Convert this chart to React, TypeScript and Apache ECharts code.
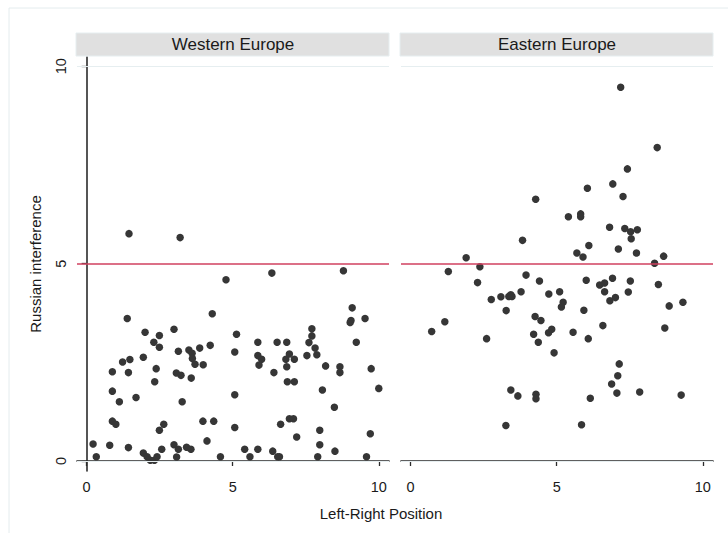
import React, { useEffect, useRef } from "react";
import * as echarts from "echarts";

const panels = ["Western Europe", "Eastern Europe"];
const xTicks = [0, 5, 10];
const yTicks = [0, 5, 10];
const threshold = 5;

const western: number[][] = [
  [1.45, 5.76], [3.2, 5.66], [4.77, 4.59], [6.34, 4.76], [8.79, 4.82],
  [1.39, 3.61], [4.3, 3.73], [9.09, 3.88], [9.02, 3.51], [9.05, 3.56], [9.53, 3.61],
  [2.0, 3.26], [2.49, 3.18], [2.99, 3.34], [5.13, 3.21], [7.71, 3.35], [7.71, 3.17], [7.61, 3.0],
  [2.3, 3.01], [2.49, 2.88], [3.14, 2.78], [3.5, 2.81], [3.61, 2.73], [3.87, 2.86], [4.23, 2.93],
  [5.86, 3.01], [6.52, 3.01], [6.85, 3.01], [9.23, 3.01], [7.82, 2.86], [7.88, 2.69],
  [3.62, 2.6], [3.71, 2.45], [3.99, 2.44], [5.07, 2.76],
  [5.86, 2.67], [5.99, 2.58], [5.9, 2.43], [6.94, 2.71], [6.82, 2.58], [7.11, 2.58], [6.85, 2.39], [7.54, 2.67],
  [1.23, 2.51], [1.48, 2.57], [1.94, 2.63], [0.88, 2.26], [1.43, 2.24], [2.38, 2.34], [3.07, 2.23], [3.23, 2.17], [3.58, 2.1], [2.33, 2.01],
  [6.41, 2.24], [8.18, 2.41], [8.67, 2.39], [8.67, 2.24], [9.74, 2.34],
  [0.88, 1.77], [1.69, 1.61], [3.27, 1.5], [5.07, 1.68], [1.12, 1.5],
  [6.87, 2.01], [7.11, 2.01], [8.07, 1.8], [10.0, 1.84],
  [8.48, 1.36],
  [0.88, 1.01], [1.0, 0.93], [2.64, 0.93], [2.49, 0.78], [3.98, 1.01], [4.35, 1.01], [5.07, 0.85],
  [6.64, 0.93], [6.94, 1.07], [7.08, 1.07], [7.98, 0.78], [7.19, 0.61], [9.71, 0.69],
  [0.22, 0.43], [0.33, 0.11], [0.79, 0.4], [1.43, 0.34], [1.94, 0.2], [2.07, 0.11], [2.18, 0.02], [2.32, 0.02], [2.41, 0.11],
  [2.57, 0.3], [2.99, 0.41], [3.14, 0.3], [3.08, 0.1], [3.42, 0.35], [3.57, 0.3], [4.12, 0.51], [4.58, 0.11],
  [5.41, 0.3], [5.86, 0.3], [5.59, 0.11], [6.37, 0.25], [6.54, 0.11], [6.6, 0.11], [7.98, 0.41], [7.91, 0.11], [8.5, 0.25], [9.58, 0.11],
];

const eastern: number[][] = [
  [7.19, 9.47], [8.44, 7.94], [7.42, 7.4], [6.05, 6.91], [6.92, 7.02], [7.27, 6.7], [4.28, 6.63],
  [5.4, 6.19], [5.82, 6.26], [5.82, 6.19], [6.81, 5.92], [7.33, 5.89], [7.53, 5.81], [7.76, 5.86], [7.55, 5.63],
  [3.83, 5.59], [6.1, 5.46], [7.11, 5.37], [5.69, 5.27], [5.9, 5.17], [7.73, 5.27], [1.9, 5.15], [8.66, 5.19], [8.35, 5.01],
  [1.29, 4.8], [2.37, 4.92], [2.29, 4.52], [3.95, 4.71], [4.41, 4.56], [6.01, 4.58], [6.47, 4.46], [6.64, 4.51],
  [6.91, 4.63], [7.52, 4.56], [8.48, 4.47],
  [2.76, 4.09], [3.09, 4.16], [3.36, 4.17], [3.43, 4.21], [3.47, 4.17], [3.78, 4.29], [4.73, 4.23], [5.1, 4.29],
  [5.22, 4.02], [5.16, 3.9], [6.64, 4.29], [6.82, 4.06], [7.01, 4.14], [7.45, 4.28],
  [3.27, 3.81], [5.93, 3.82], [8.85, 3.93], [9.32, 4.02], [1.17, 3.53], [0.72, 3.28],
  [4.26, 3.66], [4.46, 3.56], [6.58, 3.43], [8.7, 3.37], [2.6, 3.1], [4.21, 3.21], [4.37, 3.01],
  [4.72, 3.25], [4.83, 3.34], [5.56, 3.26], [6.08, 3.1], [4.91, 2.74],
  [7.14, 2.46], [7.09, 2.16], [6.88, 1.95], [7.06, 1.72], [7.84, 1.75], [9.26, 1.67],
  [3.43, 1.8], [3.67, 1.65], [4.29, 1.69], [4.29, 1.58], [6.15, 1.59], [3.26, 0.9], [5.85, 0.92],
];

const FONT = "'Liberation Sans', Arial, sans-serif";

export default function App() {
  const ref = useRef<HTMLDivElement>(null);
  useEffect(() => {
    if (!ref.current) return;
    const chart = echarts.init(ref.current, undefined, { renderer: "svg" });
    const X_MIN = -0.33, X_MAX = 10.35, Y_MIN = -0.253, Y_MAX = 10.235;
    const grids = [
      { left: 77, top: 57, width: 312, height: 414 },
      { left: 401, top: 57, width: 312, height: 414 },
    ];
    const axisColor = "#2b2b2b";
    const mkX = (i: number) => ({
      type: "value",
      gridIndex: i,
      min: X_MIN,
      max: X_MAX,
      axisLine: { show: true, lineStyle: { color: axisColor, width: 1.6 } },
      axisTick: { show: true, customValues: xTicks, length: 5, lineStyle: { color: axisColor, width: 1.3 } },
      axisLabel: { show: true, customValues: xTicks, color: "#1a1a1a", fontSize: 14.5, fontFamily: FONT, margin: 8 },
      splitLine: { show: false },
    });
    const mkY = (i: number) => ({
      type: "value",
      gridIndex: i,
      min: Y_MIN,
      max: Y_MAX,
      show: i === 0,
      axisLine: { show: true, lineStyle: { color: axisColor, width: 1.6 } },
      axisTick: { show: true, customValues: yTicks, length: 5, lineStyle: { color: axisColor, width: 1.3 } },
      axisLabel: { show: true, customValues: yTicks, rotate: 90, color: "#1a1a1a", fontSize: 14.5, fontFamily: FONT, margin: 9 },
      splitLine: { show: false },
    });
    const faint = { color: "#e6eef0", width: 1, type: "solid" };
    const mkSeries = (i: number, data: number[][]) => ({
      type: "scatter",
      xAxisIndex: i,
      yAxisIndex: i,
      data,
      symbol: "circle",
      symbolSize: 7.5,
      itemStyle: { color: "#363636", opacity: 1 },
      silent: true,
      markLine: {
        silent: true,
        symbol: "none",
        label: { show: false },
        data: [
          { yAxis: 0, lineStyle: faint },
          { yAxis: 10, lineStyle: faint },
          { yAxis: threshold, lineStyle: { color: "#d0405f", width: 1.5, type: "solid" } },
        ],
      },
    });
    const headers: any[] = [];
    grids.forEach((g, i) => {
      headers.push({
        type: "rect",
        shape: { x: g.left - 1, y: 33, width: g.width + 1, height: 23 },
        style: { fill: "#e0e0e0", stroke: "#e6eef0", lineWidth: 1 },
        z: 10,
      });
      headers.push({
        type: "text",
        x: g.left + g.width / 2,
        y: 44.5,
        style: {
          text: panels[i],
          fill: "#1a1a1a",
          font: `17px ${FONT}`,
          align: "center",
          verticalAlign: "middle",
        },
        z: 11,
      });
    });
    chart.setOption({
      animation: false,
      backgroundColor: "#ffffff",
      grid: grids,
      xAxis: [mkX(0), mkX(1)],
      yAxis: [mkY(0), mkY(1)],
      series: [mkSeries(0, western), mkSeries(1, eastern)],
      graphic: [
        {
          type: "rect",
          shape: { x: 9, y: 8, width: 740, height: 540 },
          style: { fill: "none", stroke: "#e4ecee", lineWidth: 1 },
          silent: true,
        },
        ...headers,
        {
          type: "text",
          x: 381,
          y: 513,
          style: {
            text: "Left-Right Position",
            fill: "#1a1a1a",
            font: `15px ${FONT}`,
            align: "center",
            verticalAlign: "middle",
          },
        },
        {
          type: "text",
          x: 35,
          y: 264,
          rotation: Math.PI / 2,
          style: {
            text: "Russian interference",
            fill: "#1a1a1a",
            font: `15px ${FONT}`,
            align: "center",
            verticalAlign: "middle",
          },
        },
      ],
    });
    return () => chart.dispose();
  }, []);
  return <div ref={ref} style={{ width: 728, height: 533, position: "absolute", left: 0, top: 0 }} />;
}
